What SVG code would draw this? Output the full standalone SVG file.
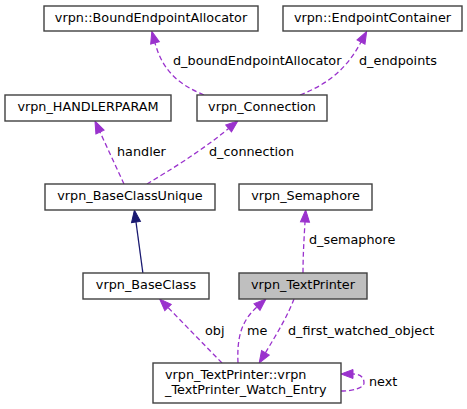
<svg xmlns="http://www.w3.org/2000/svg" width="467" height="409" viewBox="0 0 467 409">
<style>
.box{fill:#ffffff;stroke:#404040;stroke-width:1.4}
.cur{fill:#bfbfbf;stroke:#404040;stroke-width:1.4}
text{font-family:"DejaVu Sans",sans-serif;font-size:12.8px;fill:#000}
.nt{text-anchor:middle}
.use{fill:none;stroke:#9a32cd;stroke-width:1.3;stroke-dasharray:5,3}
.inh{fill:none;stroke:#191970;stroke-width:1.3}
</style>
<defs>
<marker id="au" markerUnits="userSpaceOnUse" markerWidth="13" markerHeight="10" refX="0" refY="4.5" orient="auto" overflow="visible">
<path d="M0,0 L12,4.5 L0,9 z" fill="#9a32cd" stroke="#9a32cd" stroke-width="1"/>
</marker>
<marker id="ai" markerUnits="userSpaceOnUse" markerWidth="13" markerHeight="10" refX="0" refY="4.5" orient="auto" overflow="visible">
<path d="M0,0 L12,4.5 L0,9 z" fill="#191970" stroke="#191970" stroke-width="1"/>
</marker>
</defs>
<g id="connectors">
<path class="use" d="M204,95 C180,85 163,72 155,43" marker-end="url(#au)"/>
<path class="use" d="M300,95 C325,85 345,72 361,42" marker-end="url(#au)"/>
<path class="use" d="M124,184 L100,132" marker-end="url(#au)"/>
<path class="use" d="M147,184 C170,170 200,152 228.6,128.5" marker-end="url(#au)"/>
<path class="inh" d="M143,274 L136,222" marker-end="url(#ai)"/>
<path class="use" d="M303,273 C303,255 304,240 305,222" marker-end="url(#au)"/>
<path class="use" d="M222,363 L168,307.5" marker-end="url(#au)"/>
<path class="use" d="M238,363 C237,340 240,322 257,307" marker-end="url(#au)"/>
<path class="use" d="M294,299 C288,315 278,332 265.4,352.8" marker-end="url(#au)"/>
<path class="use" d="M341,391 C353,391 364,388 364,383 C364,377 360,374 353,374" marker-end="url(#au)"/>
<text x="173" y="65">d_boundEndpointAllocator</text>
<text x="359" y="65">d_endpoints</text>
<text x="117" y="156">handler</text>
<text x="209" y="156">d_connection</text>
<text x="309" y="244">d_semaphore</text>
<text x="205" y="335">obj</text>
<text x="247" y="335">me</text>
<text x="288" y="335">d_first_watched_object</text>
<text x="369" y="386">next</text>
</g>
<g id="BoundEndpointAllocator">
<rect class="box" x="44" y="6" width="214" height="25"/>
<text class="nt" x="151" y="22">vrpn::BoundEndpointAllocator</text>
</g>
<g id="EndpointContainer">
<rect class="box" x="283" y="6" width="179" height="25"/>
<text class="nt" x="372.5" y="22">vrpn::EndpointContainer</text>
</g>
<g id="HANDLERPARAM">
<rect class="box" x="5" y="95" width="166" height="26"/>
<text class="nt" x="88" y="111">vrpn_HANDLERPARAM</text>
</g>
<g id="Connection">
<rect class="box" x="197" y="95" width="130" height="26"/>
<text class="nt" x="262" y="111">vrpn_Connection</text>
</g>
<g id="BaseClassUnique">
<rect class="box" x="45" y="184" width="170" height="26"/>
<text class="nt" x="130" y="200">vrpn_BaseClassUnique</text>
</g>
<g id="Semaphore">
<rect class="box" x="239" y="184" width="133" height="26"/>
<text class="nt" x="305.5" y="200">vrpn_Semaphore</text>
</g>
<g id="BaseClass">
<rect class="box" x="83" y="273" width="126" height="26"/>
<text class="nt" x="146" y="289">vrpn_BaseClass</text>
</g>
<g id="TextPrinter">
<rect class="cur" x="239" y="273" width="128" height="26"/>
<text class="nt" x="303" y="289">vrpn_TextPrinter</text>
</g>
<g id="WatchEntry">
<rect class="box" x="153" y="363" width="188" height="40"/>
<text x="165" y="379">vrpn_TextPrinter::vrpn</text>
<text x="165" y="394">_TextPrinter_Watch_Entry</text>
</g>
</svg>
